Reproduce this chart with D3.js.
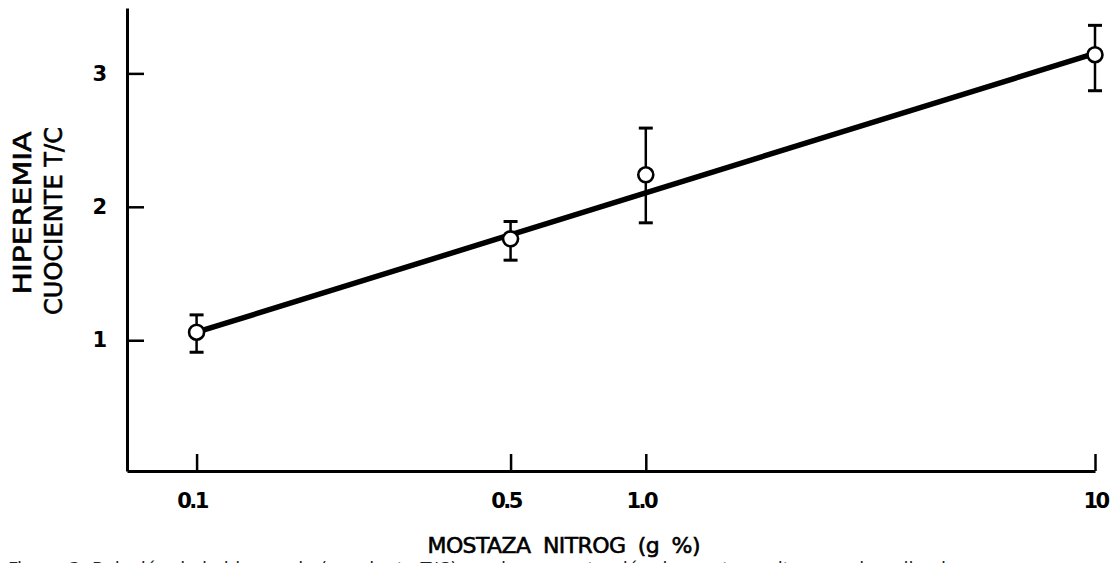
<!DOCTYPE html>
<html>
<head>
<meta charset="utf-8">
<script src="https://cdn.jsdelivr.net/npm/d3@7"></script>
<style>
  body { margin: 0; background: #fff; }
  svg { display: block; }
  .axis path, .axis line { stroke: #000; }
  .axis text { font-family: "DejaVu Sans", sans-serif; font-weight: bold; fill: #000; }
  .title { font-family: "DejaVu Sans", sans-serif; fill: #000; stroke: #000; stroke-width: 0.6px; }
</style>
</head>
<body>
<div id="chart"></div>
<script>
// values
var doses = [0.1, 0.5, 1.0, 10];
var means = [1.06, 1.76, 2.24, 3.14];
var upper = [1.19, 1.89, 2.59, 3.36];
var lower = [0.91, 1.60, 1.88, 2.87];
var fitX = [0.1, 10];
var fitY = [1.06, 3.15];
var xTicks = [0.1, 0.5, 1.0, 10];
var xTickLabels = ["0.1", "0.5", "1.0", "10"];
var yTicks = [1, 2, 3];

var w = 1115, h = 563;
var svg = d3.select("#chart").append("svg").attr("width", w).attr("height", h);

var x = d3.scaleLog().domain([0.07, 10]).range([127, 1095]);
var y = d3.scaleLinear().domain([0.02, 3.49]).range([471, 8]);

var points = doses.map(function(d, i) {
  return {x: d, m: means[i], hi: upper[i], lo: lower[i]};
});

// axes - ticks point inward
var gx = svg.append("g")
    .attr("class", "axis")
    .attr("transform", "translate(0,471)")
    .call(d3.axisBottom(x).tickValues(xTicks)
      .tickFormat(function(d, i) { return xTickLabels[i]; })
      .tickSize(-17).tickSizeOuter(0).tickPadding(22));
gx.select(".domain").attr("stroke-width", 3);
gx.selectAll(".tick line").attr("stroke-width", 2.5);
gx.selectAll(".tick text").attr("font-size", 21).attr("letter-spacing", -2.5)
    .attr("dx", function(d) { return d < 10 ? -5 : 0; });

var gy = svg.append("g")
    .attr("class", "axis")
    .attr("transform", "translate(127,0)")
    .call(d3.axisLeft(y).tickValues(yTicks).tickFormat(d3.format("d"))
      .tickSize(-17).tickSizeOuter(0).tickPadding(20));
gy.select(".domain").attr("stroke-width", 3);
gy.selectAll(".tick line").attr("stroke-width", 2.5);
gy.selectAll(".tick text").attr("font-size", 21);

// fitted line
var line = d3.line()
    .x(function(d) { return x(d[0]); })
    .y(function(d) { return y(d[1]); });
svg.append("path")
    .datum(d3.zip(fitX, fitY))
    .attr("d", line)
    .attr("fill", "none")
    .attr("stroke", "#000")
    .attr("stroke-width", 5.5);

// error bars
var eb = svg.selectAll(".err").data(points).enter().append("g").attr("class", "err");
eb.append("line")
    .attr("x1", function(d) { return x(d.x); })
    .attr("x2", function(d) { return x(d.x); })
    .attr("y1", function(d) { return y(d.hi); })
    .attr("y2", function(d) { return y(d.lo); })
    .attr("stroke", "#000").attr("stroke-width", 2.5);
["hi", "lo"].forEach(function(k) {
  eb.append("line")
      .attr("x1", function(d) { return x(d.x) - 7; })
      .attr("x2", function(d) { return x(d.x) + 7; })
      .attr("y1", function(d) { return y(d[k]); })
      .attr("y2", function(d) { return y(d[k]); })
      .attr("stroke", "#000").attr("stroke-width", 3);
});

// open circles
svg.selectAll(".pt").data(points).enter().append("circle")
    .attr("class", "pt")
    .attr("cx", function(d) { return x(d.x); })
    .attr("cy", function(d) { return y(d.m); })
    .attr("r", 7.5)
    .attr("fill", "#fff")
    .attr("stroke", "#000")
    .attr("stroke-width", 2.6);

// axis titles
svg.append("text")
    .attr("class", "title")
    .attr("x", 564).attr("y", 553)
    .attr("text-anchor", "middle")
    .attr("font-size", 22)
    .attr("textLength", 273).attr("lengthAdjust", "spacing")
    .attr("word-spacing", 6)
    .text("MOSTAZA NITROG (g %)");

svg.append("text")
    .attr("class", "title")
    .attr("transform", "translate(31,213) rotate(-90)")
    .attr("text-anchor", "middle")
    .attr("font-size", 25)
    .attr("textLength", 163).attr("lengthAdjust", "spacingAndGlyphs")
    .text("HIPEREMIA");

svg.append("text")
    .attr("class", "title")
    .attr("transform", "translate(62,221) rotate(-90)")
    .attr("text-anchor", "middle")
    .attr("font-size", 25)
    .attr("textLength", 188).attr("lengthAdjust", "spacingAndGlyphs")
    .text("CUOCIENTE  T/C");

// caption, cut off by the page edge
svg.append("text")
    .attr("x", 8).attr("y", 575)
    .attr("font-family", "DejaVu Sans, sans-serif")
    .attr("font-size", 18)
    .attr("fill", "#222")
    .text("Figura 3.  Relación de la hiperemia (cuociente T/C) con la concentración de mostaza nitrogenada aplicada");
</script>
</body>
</html>
